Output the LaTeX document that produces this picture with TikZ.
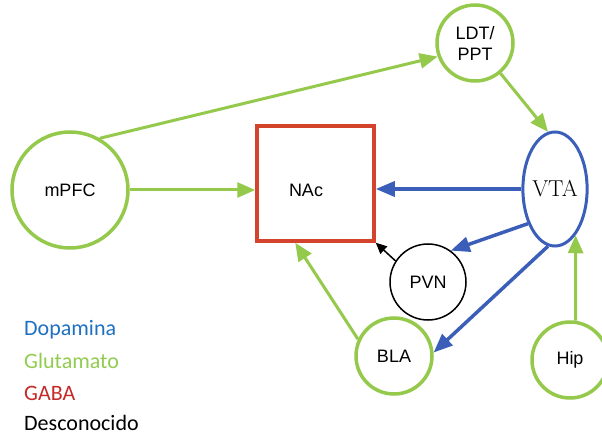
\documentclass[tikz,border=0pt]{standalone}
\usepackage{fontspec}
\newfontfamily\arialf{Liberation Sans}
\newfontfamily\legendf{Carlito}
\usetikzlibrary{arrows.meta,shapes.geometric,calc}
\definecolor{glut}{HTML}{94C94C}
\definecolor{dopa}{HTML}{3B5EB8}
\definecolor{gaba}{HTML}{D4432B}
\definecolor{legblue}{HTML}{1F70C1}
\definecolor{leggreen}{HTML}{92CC50}
\definecolor{legred}{HTML}{C42A2A}
\begin{document}
\begin{tikzpicture}[x=1pt,y=-1pt,
  greennode/.style={circle, draw=glut, line width=3.5pt, minimum size=76pt, inner sep=0pt,
    font=\arialf\fontsize{18}{21}\selectfont, align=center},
  blacknode/.style={circle, draw=black, line width=1.5pt, minimum size=76pt, inner sep=0pt,
    font=\arialf\fontsize{18}{21}\selectfont},
  ga/.style={draw=glut, line width=3pt, -{Triangle[length=18pt,width=15pt]}},
  ba/.style={draw=dopa, line width=3.5pt, -{Triangle[length=19pt,width=15pt]}},
  ka/.style={draw=black, line width=1.5pt, -{Triangle[length=11pt,width=10pt]}},
  legend/.style={anchor=base west, inner sep=0pt, font=\legendf\fontsize{22}{26}\selectfont}]
\useasboundingbox (0,0) rectangle (602,435);
\fill[white] (0,0) rectangle (602,435);

\node[greennode, minimum size=116pt] (mPFC) at (70,190) {mPFC};
\node[draw=gaba, line width=3.5pt, minimum width=117pt, minimum height=115pt, inner sep=0pt] (NAc) at (315.5,183.5) {};
\node[font=\arialf\fontsize{18}{21}\selectfont] (NAcT) at (306,190) {NAc};
\node[greennode] (LDT) at (475,43) {LDT/\\PPT};
\node[ellipse, draw=dopa, line width=3pt, minimum width=64pt, minimum height=114pt, inner sep=0pt,
  font=\fontsize{23}{27}\selectfont] (VTA) at (555,189) {VTA};
\node[blacknode] (PVN) at (428,282) {PVN};
\node[greennode] (BLA) at (394,356) {BLA};
\node[greennode] (Hip) at (570,360) {Hip};

\draw[ga] (mPFC.60) -- (LDT.200);
\draw[ga] (mPFC.east) -- (mPFC.east -| NAc.west);
\draw[ga] (LDT.-50) -- (VTA.97);
\draw[ba] (VTA.west) -- (VTA.west -| NAc.east);
\draw[ba] (VTA.232) -- (PVN.54);
\draw[ba] (VTA.263) -- (BLA.5);
\draw[ga] (Hip.82) -- (VTA.-66);
\draw[ga] (BLA.155) -- ($(NAc.south west)+(40,0)$);
\draw[ka] (PVN.147) -- (NAc.south east);

\node[legend, text=legblue] (L1) at (24,336) {Dopamina};
\node[legend, text=leggreen] (L2) at (24,368) {Glutamato};
\node[legend, text=legred] (L3) at (24,400) {GABA};
\node[legend, text=black] (L4) at (24,430) {Desconocido};
\end{tikzpicture}
\end{document}
